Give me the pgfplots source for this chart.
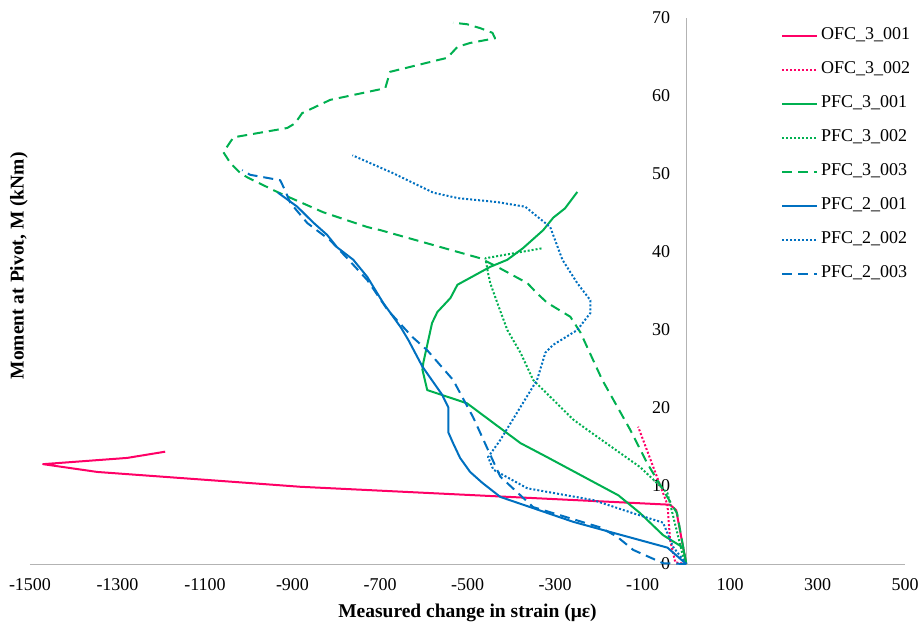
\documentclass[border=0pt]{standalone}
\usepackage{fontspec}
\setmainfont{Liberation Serif}
\usepackage{pgfplots}
\pgfplotsset{compat=1.18}
\definecolor{cR}{HTML}{FF0066}
\definecolor{cG}{HTML}{00B050}
\definecolor{cB}{HTML}{0070C0}
\definecolor{axgray}{HTML}{B3B3B3}
\begin{document}
\fontsize{18bp}{21bp}\selectfont
\begin{tikzpicture}[font=\fontsize{18bp}{21bp}\selectfont]
\begin{axis}[name=ax, at={(0,0)}, anchor=south west,
 scale only axis, width=875bp, height=546bp,
 xmin=-1500, xmax=500, ymin=0, ymax=70,
 axis lines=middle, axis line style={axgray, line width=1bp, -},
 xtick={-1500,-1300,-1100,-900,-700,-500,-300,-100,100,300,500},
 xticklabels={-1500,-1300,-1100,-900,-700,-500,-300,-100,100,300,500},
 ytick={0,10,20,30,40,50,60,70},
 major tick length=0pt,
 hide obscured x ticks=false, hide obscured y ticks=false,
 xticklabel style={anchor=north, yshift=-8bp},
 yticklabel style={anchor=east, xshift=-10bp},
 /pgf/number format/assume math mode=true,
 xlabel={\fontsize{19.5bp}{23bp}\selectfont\bfseries Measured change in strain (με)},
 ylabel={\fontsize{19.5bp}{23bp}\selectfont\bfseries Moment at Pivot, M (kNm)},
 xlabel style={at={(rel axis cs:0.5,-0.0897)}, anchor=center},
 ylabel style={at={(rel axis cs:-0.0126,0.546)}, anchor=center, rotate=90},
 clip=false,
 legend style={at={(rel axis cs:0.8583,0.9826)}, anchor=north west, draw=none, fill=none,
   inner sep=0pt, row sep=18bp, column sep=3bp,
   nodes={inner sep=0pt, anchor=west, text height=12bp, text depth=4bp}},
 legend cell align=left,
 legend image code/.code={\draw[#1] (0bp,0bp) -- (35bp,0bp);},
 every axis plot/.append style={line width=2bp, line join=round},
 dotted style/.style={dash pattern=on 2bp off 2bp},
 dashed style/.style={dash pattern=on 10bp off 6bp},
]
\addplot[cR, solid] coordinates {(0,0) (-23,6.9) (-37,7.6) (-882,9.9) (-1003,10.4) (-1346,11.8) (-1470,12.8) (-1278,13.6) (-1191,14.4)};
\addlegendentry{OFC\_3\_001}
\addplot[cR, dotted style] coordinates {(0,0) (-25,0.2) (-37,3.1) (-43,7.6) (-110,17.6)};
\addlegendentry{OFC\_3\_002}
\addplot[cG, solid] coordinates {(0,0) (-7,2.1) (-53,3.7) (-105,6.5) (-155,8.8) (-318,13.7) (-379,15.5) (-501,20.6) (-592,22.3) (-603,24.9) (-601,25.8) (-581,30.9) (-569,32.3) (-539,34.1) (-523,35.8) (-448,38.1) (-409,39.0) (-373,40.5) (-327,42.8) (-304,44.4) (-277,45.6) (-249,47.7)};
\addlegendentry{PFC\_3\_001}
\addplot[cG, dotted style] coordinates {(0,0) (-7,0.9) (-43,9.1) (-105,12.4) (-226,17.2) (-258,18.5) (-350,23.6) (-379,27.1) (-409,30.0) (-432,33.5) (-448,36.0) (-453,37.3) (-459,39.2) (-327,40.5)};
\addlegendentry{PFC\_3\_002}
\addplot[cG, dashed style] coordinates {(0,0) (-21,6.5) (-89,12.9) (-128,17.2) (-192,23.6) (-242,29.7) (-265,31.7) (-318,33.5) (-341,34.7) (-363,36.0) (-432,38.1) (-471,39.2) (-699,42.8) (-729,43.2) (-830,45.1) (-935,47.7) (-1001,49.5) (-1019,50.1) (-1042,51.4) (-1058,52.8) (-1035,54.7) (-912,55.9) (-894,56.5) (-878,57.8) (-814,59.5) (-688,61.0) (-677,63.1) (-546,64.9) (-523,66.3) (-494,66.8) (-437,67.4) (-443,68.1) (-471,68.7) (-501,69.2) (-533,69.4)};
\addlegendentry{PFC\_3\_003}
\addplot[cB, solid] coordinates {(0,0) (-43,2.1) (-167,4.0) (-258,5.4) (-425,8.6) (-466,10.4) (-494,11.8) (-517,13.6) (-533,15.5) (-544,16.9) (-544,20.1) (-558,21.7) (-603,25.3) (-635,28.7) (-652,30.3) (-693,33.5) (-729,36.8) (-761,39.0) (-798,40.6) (-821,42.2) (-853,43.8) (-889,45.8) (-933,47.6)};
\addlegendentry{PFC\_2\_001}
\addplot[cB, dotted style] coordinates {(0,0) (-30,2.2) (-53,5.3) (-121,6.5) (-213,8.2) (-363,9.7) (-441,12.1) (-453,13.7) (-425,15.9) (-341,23.6) (-322,27.1) (-304,28.1) (-249,30.0) (-219,32.2) (-219,33.8) (-249,36.0) (-283,39.0) (-311,43.2) (-368,45.8) (-432,46.4) (-521,46.9) (-578,47.6) (-670,50.1) (-763,52.4)};
\addlegendentry{PFC\_2\_002}
\addplot[cB, dashed style] coordinates {(0,0) (-53,0.1) (-121,1.8) (-158,3.5) (-197,4.7) (-350,7.3) (-425,11.2) (-448,14.0) (-487,18.8) (-533,23.6) (-592,27.4) (-626,29.1) (-683,32.6) (-729,36.4) (-775,39.2) (-814,41.5) (-866,43.7) (-905,46.3) (-917,47.9) (-928,49.2) (-997,49.9) (-1015,50.5)};
\addlegendentry{PFC\_2\_003}
\end{axis}
\pgfresetboundingbox
\path[use as bounding box] ([shift={(-30bp,-63bp)}]ax.south west) rectangle ([shift={(890bp,564bp)}]ax.south west);
\end{tikzpicture}
\end{document}
